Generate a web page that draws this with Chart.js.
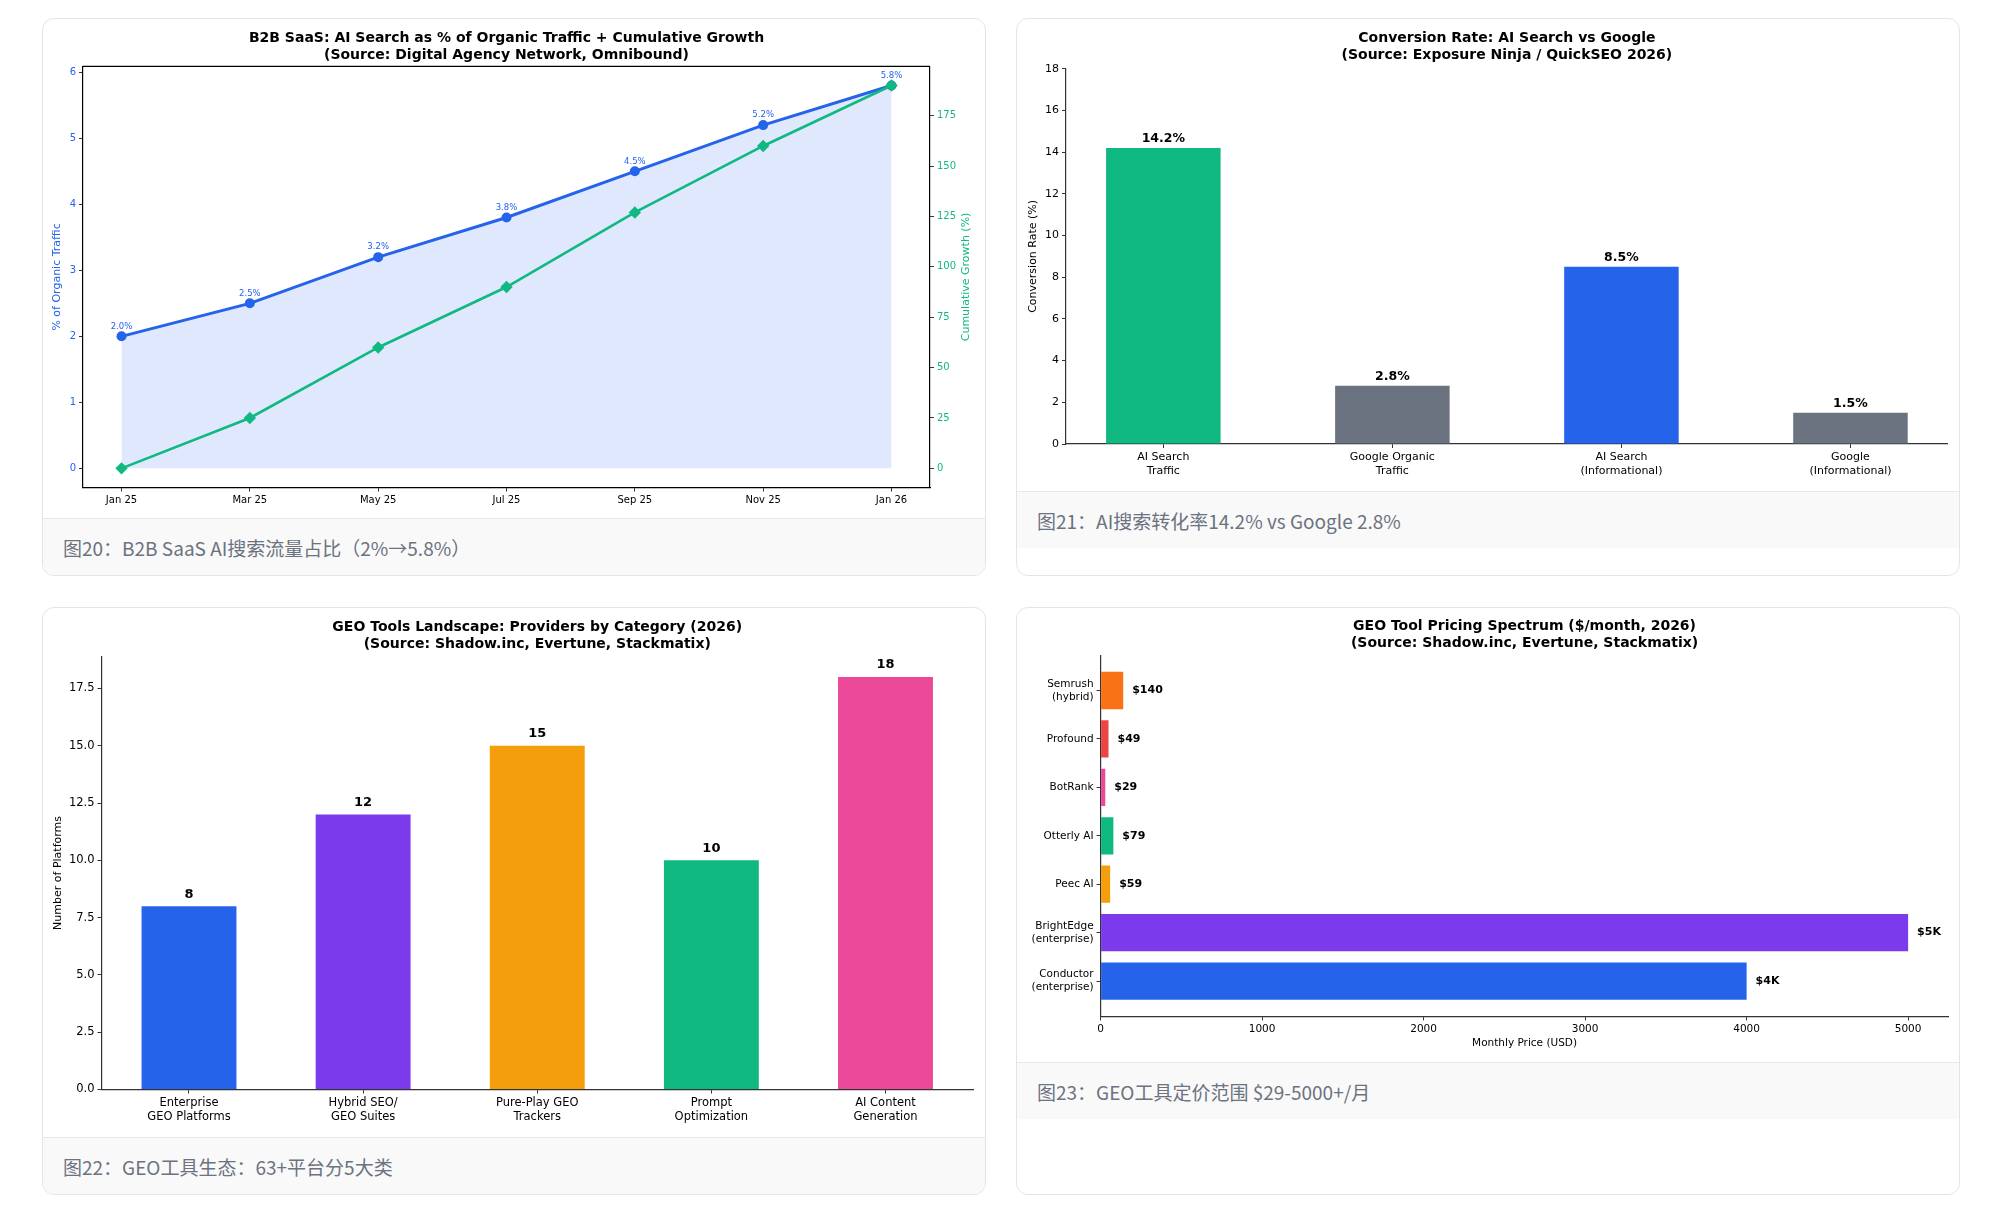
<!DOCTYPE html>
<html lang="zh-CN">
<head>
<meta charset="utf-8">
<title>GEO charts</title>
<script src="https://cdn.jsdelivr.net/npm/chart.js@4.4.1/dist/chart.umd.min.js"></script>
<style>
  html, body { margin: 0; padding: 0; background: #fff; }
  body { width: 2016px; height: 1232px; overflow: hidden; position: relative; }
  .grid {
    position: absolute; left: 42px; top: 18px;
    display: grid; grid-template-columns: 944px 944px;
    column-gap: 30px; row-gap: 31px;
  }
  .card {
    box-sizing: border-box; border: 1px solid #e4e4e4; border-radius: 12px;
    background: #fff; overflow: hidden;
  }
  .chart-box { position: relative; width: 942px; }
  .caption {
    box-sizing: border-box; height: 57px; padding: 2px 20px 0;
    line-height: 54px; background: #f9f9f9; border-top: 1px solid #e8e8e8;
    font-family: "Noto Sans CJK SC", sans-serif; font-size: 19px; color: #6b7280;
  }
</style>
</head>
<body>
<div class="grid">
  <div class="card">
    <div class="chart-box" style="height:499px"><canvas id="trendChart"></canvas></div>
    <div class="caption">图20：B2B SaaS AI搜索流量占比（2%→5.8%）</div>
  </div>
  <div class="card">
    <div class="chart-box" style="height:472px"><canvas id="convChart"></canvas></div>
    <div class="caption">图21：AI搜索转化率14.2% vs Google 2.8%</div>
  </div>
  <div class="card">
    <div class="chart-box" style="height:529px"><canvas id="geoChart"></canvas></div>
    <div class="caption">图22：GEO工具生态：63+平台分5大类</div>
  </div>
  <div class="card">
    <div class="chart-box" style="height:454px"><canvas id="priceChart"></canvas></div>
    <div class="caption">图23：GEO工具定价范围 $29-5000+/月</div>
  </div>
</div>

<script>
// ---- 数据 ----
// 图20: AI搜索流量占比 + 累计增长
const trendLabels = ['Jan 25', 'Mar 25', 'May 25', 'Jul 25', 'Sep 25', 'Nov 25', 'Jan 26'];
const aiSharePct = [2.0, 2.5, 3.2, 3.8, 4.5, 5.2, 5.8];
const cumulativeGrowth = [0, 25, 60, 90, 127, 160, 190];
const shareTicks = [0, 1, 2, 3, 4, 5, 6];
const growthTicks = [0, 25, 50, 75, 100, 125, 150, 175];

// 图21: 转化率
const convCategories = [['AI Search', 'Traffic'], ['Google Organic', 'Traffic'], ['AI Search', '(Informational)'], ['Google', '(Informational)']];
const convRates = [14.2, 2.8, 8.5, 1.5];

// 图22: GEO 工具分类
const geoCategories = [['Enterprise', 'GEO Platforms'], ['Hybrid SEO/', 'GEO Suites'], ['Pure-Play GEO', 'Trackers'], ['Prompt', 'Optimization'], ['AI Content', 'Generation']];
const geoCounts = [8, 12, 15, 10, 18];
const geoTicks = [0, 2.5, 5, 7.5, 10, 12.5, 15, 17.5];

// 图23: 定价 (从下往上)
const toolNames = [['Conductor', '(enterprise)'], ['BrightEdge', '(enterprise)'], 'Peec AI', 'Otterly AI', 'BotRank', 'Profound', ['Semrush', '(hybrid)']];
const toolPrices = [4000, 5000, 59, 79, 29, 49, 140];
const priceTicks = [0, 1000, 2000, 3000, 4000, 5000];

// ---- 颜色 ----
const BLUE = '#2563eb', GREEN = '#10b981', GRAY = '#6b7280';
const convColors = [GREEN, GRAY, BLUE, GRAY];
const geoColors = [BLUE, '#7c3aed', '#f59e0b', GREEN, '#ec4899'];
const toolColors = [BLUE, '#7c3aed', '#f59e0b', GREEN, '#ec4899', '#ef4444', '#f97316'];

const FONT = 'DejaVu Sans';
Chart.defaults.font.family = FONT;
Chart.defaults.color = '#000';
Chart.defaults.animation = false;
Chart.defaults.maintainAspectRatio = false;
Chart.defaults.plugins.legend.display = false;
Chart.defaults.plugins.tooltip.enabled = false;

// 数值标签插件
const valueLabels = {
    id: 'valueLabels',
    afterDatasetsDraw(chart, args, opts) {
        const meta = chart.getDatasetMeta(opts.datasetIndex || 0);
        const ctx = chart.ctx;
        ctx.save();
        ctx.font = opts.font;
        ctx.fillStyle = opts.color;
        ctx.textBaseline = 'middle';
        meta.data.forEach((el, i) => {
            if (opts.side === 'right') {
                ctx.textAlign = 'left';
                ctx.fillText(opts.texts[i], el.x + opts.offset, el.y);
            } else {
                ctx.textAlign = 'center';
                ctx.fillText(opts.texts[i], el.x, el.y - opts.offset);
            }
        });
        ctx.restore();
    }
};

// 图20 顶部边框 + 右轴标题 (从下往上读)
const trendExtras = {
    id: 'trendExtras',
    afterDraw(chart) {
        const a = chart.chartArea, ctx = chart.ctx;
        ctx.save();
        ctx.strokeStyle = '#000';
        ctx.lineWidth = 1.2;
        ctx.beginPath();
        ctx.moveTo(a.left, a.top);
        ctx.lineTo(a.right, a.top);
        ctx.stroke();

        const y1 = chart.scales.y1;
        ctx.translate(y1.right - 19, (a.top + a.bottom) / 2);
        ctx.rotate(-Math.PI / 2);
        ctx.font = '11px "DejaVu Sans"';
        ctx.fillStyle = GREEN;
        ctx.textAlign = 'center';
        ctx.textBaseline = 'middle';
        ctx.fillText('Cumulative Growth (%)', 0, 0);
        ctx.restore();
    }
};

function setTicks(values) {
    return scale => { scale.ticks = values.map(v => ({ value: v })); };
}

function axisStyle(extra) {
    return Object.assign({
        grid: { display: true, drawOnChartArea: false, drawTicks: true, tickLength: 4, tickColor: '#333', offset: false },
        border: { display: true, color: '#333', width: 1.2 }
    }, extra);
}

function titleOpts(lines, top, bottom) {
    return {
        display: true, text: lines, fullSize: false, color: '#000',
        font: { family: FONT, size: 14, weight: 'bold', lineHeight: 1.22 },
        padding: { top: top, bottom: bottom }
    };
}

// ---- 图20 ----
new Chart(document.getElementById('trendChart'), {
    type: 'line',
    data: {
        datasets: [{
            data: cumulativeGrowth.map((v, i) => ({ x: i, y: v })),
            yAxisID: 'y1',
            borderColor: GREEN, borderWidth: 2.6,
            pointStyle: 'rectRot', pointRadius: 6.2,
            pointBackgroundColor: GREEN, pointBorderWidth: 0,
            fill: false
        }, {
            data: aiSharePct.map((v, i) => ({ x: i, y: v })),
            yAxisID: 'y',
            borderColor: BLUE, borderWidth: 3,
            pointRadius: 5, pointBackgroundColor: BLUE, pointBorderWidth: 0,
            fill: 'origin', backgroundColor: 'rgba(37, 99, 235, 0.15)'
        }]
    },
    options: {
        layout: { padding: 0 },
        plugins: {
            title: titleOpts(['B2B SaaS: AI Search as % of Organic Traffic + Cumulative Growth', '(Source: Digital Agency Network, Omnibound)'], 10.8, 2.4),
            valueLabels: {
                datasetIndex: 1,
                texts: aiSharePct.map(v => v.toFixed(1) + '%'),
                font: '8.5px "DejaVu Sans"', color: BLUE, offset: 10
            }
        },
        scales: {
            x: axisStyle({
                type: 'linear', min: -0.3, max: 6.3,
                border: { display: true, color: '#000', width: 1.2 },
                afterBuildTicks: setTicks(trendLabels.map((_, i) => i)),
                afterFit: s => { s.height = 30.5; },
                ticks: { font: { size: 10 }, padding: 3, maxRotation: 0, callback: v => trendLabels[Math.round(v)] }
            }),
            y: axisStyle({
                type: 'linear', position: 'left', min: -0.29, max: 6.09,
                border: { display: true, color: '#000', width: 1.2 },
                afterBuildTicks: setTicks(shareTicks),
                afterFit: s => { s.width = 40; },
                ticks: { font: { size: 10 }, color: BLUE, padding: 3 },
                title: { display: true, text: '% of Organic Traffic', color: BLUE, font: { size: 11 }, padding: { top: 8, bottom: 0 } }
            }),
            y1: axisStyle({
                type: 'linear', position: 'right', min: -9.5, max: 199.5,
                border: { display: true, color: '#000', width: 1.2 },
                afterBuildTicks: setTicks(growthTicks),
                afterFit: s => { s.width = 55; },
                ticks: { font: { size: 10 }, color: GREEN, padding: 3 }
            })
        }
    },
    plugins: [valueLabels, trendExtras]
});

// ---- 图21 ----
new Chart(document.getElementById('convChart'), {
    type: 'bar',
    data: {
        datasets: [{
            data: convRates.map((v, i) => ({ x: i, y: v })),
            backgroundColor: convColors,
            barPercentage: 0.5, categoryPercentage: 1
        }]
    },
    options: {
        layout: { padding: { right: 11.2 } },
        plugins: {
            title: titleOpts(['Conversion Rate: AI Search vs Google', '(Source: Exposure Ninja / QuickSEO 2026)'], 11.2, 4.4),
            valueLabels: {
                texts: convRates.map(v => v.toFixed(1) + '%'),
                font: 'bold 12.5px "DejaVu Sans"', color: '#000', offset: 9
            }
        },
        scales: {
            x: axisStyle({
                type: 'linear', min: -0.425, max: 3.425, offset: false,
                afterBuildTicks: setTicks(convCategories.map((_, i) => i)),
                afterFit: s => { s.height = 47; },
                ticks: { font: { size: 11 }, padding: 3, maxRotation: 0, autoSkip: false, callback: v => convCategories[Math.round(v)] }
            }),
            y: axisStyle({
                type: 'linear', min: 0, max: 18,
                afterFit: s => { s.width = 49; },
                ticks: { font: { size: 11 }, stepSize: 2, padding: 3 },
                title: { display: true, text: 'Conversion Rate (%)', font: { size: 11 }, padding: { top: 10, bottom: 0 } }
            })
        }
    },
    plugins: [valueLabels]
});

// ---- 图22 ----
new Chart(document.getElementById('geoChart'), {
    type: 'bar',
    data: {
        datasets: [{
            data: geoCounts.map((v, i) => ({ x: i, y: v })),
            backgroundColor: geoColors,
            barPercentage: 0.545, categoryPercentage: 1
        }]
    },
    options: {
        layout: { padding: { right: 12 } },
        plugins: {
            title: titleOpts(['GEO Tools Landscape: Providers by Category (2026)', '(Source: Shadow.inc, Evertune, Stackmatix)'], 10.7, 3.5),
            valueLabels: {
                texts: geoCounts.map(v => String(v)),
                font: 'bold 13px "DejaVu Sans"', color: '#000', offset: 12
            }
        },
        scales: {
            x: axisStyle({
                type: 'linear', min: -0.5025, max: 4.5025, offset: false,
                afterBuildTicks: setTicks(geoCategories.map((_, i) => i)),
                afterFit: s => { s.height = 47.5; },
                ticks: { font: { size: 11.5 }, padding: 3, maxRotation: 0, autoSkip: false, callback: v => geoCategories[Math.round(v)] }
            }),
            y: axisStyle({
                type: 'linear', min: 0, max: 18.9,
                afterBuildTicks: setTicks(geoTicks),
                afterFit: s => { s.width = 58.5; },
                ticks: { font: { size: 11.5 }, padding: 3, callback: v => v.toFixed(1) },
                title: { display: true, text: 'Number of Platforms', font: { size: 11 }, padding: { top: 9, bottom: 0 } }
            })
        }
    },
    plugins: [valueLabels]
});

// ---- 图23 ----
new Chart(document.getElementById('priceChart'), {
    type: 'bar',
    data: {
        datasets: [{
            data: toolPrices.map((v, i) => ({ x: v, y: i })),
            backgroundColor: toolColors,
            barPercentage: 0.77, categoryPercentage: 1
        }]
    },
    options: {
        indexAxis: 'y',
        layout: { padding: { right: 10.5 } },
        plugins: {
            title: titleOpts(['GEO Tool Pricing Spectrum ($/month, 2026)', '(Source: Shadow.inc, Evertune, Stackmatix)'], 9.9, 3.1),
            valueLabels: {
                side: 'right',
                texts: toolPrices.map(v => v >= 1000 ? '$' + (v / 1000) + 'K' : '$' + v),
                font: 'bold 11px "DejaVu Sans"', color: '#000', offset: 9
            }
        },
        scales: {
            x: axisStyle({
                type: 'linear', min: 0, max: 5250,
                afterBuildTicks: setTicks(priceTicks),
                afterFit: s => { s.height = 45.6; },
                ticks: { font: { size: 10.5 }, padding: 3, maxRotation: 0, callback: v => String(v) },
                title: { display: true, text: 'Monthly Price (USD)', font: { size: 10.5 }, padding: { top: 0, bottom: 12 } }
            }),
            y: axisStyle({
                type: 'linear', min: -0.73, max: 6.73, offset: false,
                afterBuildTicks: setTicks(toolNames.map((_, i) => i)),
                afterFit: s => { s.width = 83.6; },
                ticks: { font: { size: 10.5 }, padding: 3, autoSkip: false, callback: v => toolNames[Math.round(v)] }
            })
        }
    },
    plugins: [valueLabels]
});
</script>
</body>
</html>
